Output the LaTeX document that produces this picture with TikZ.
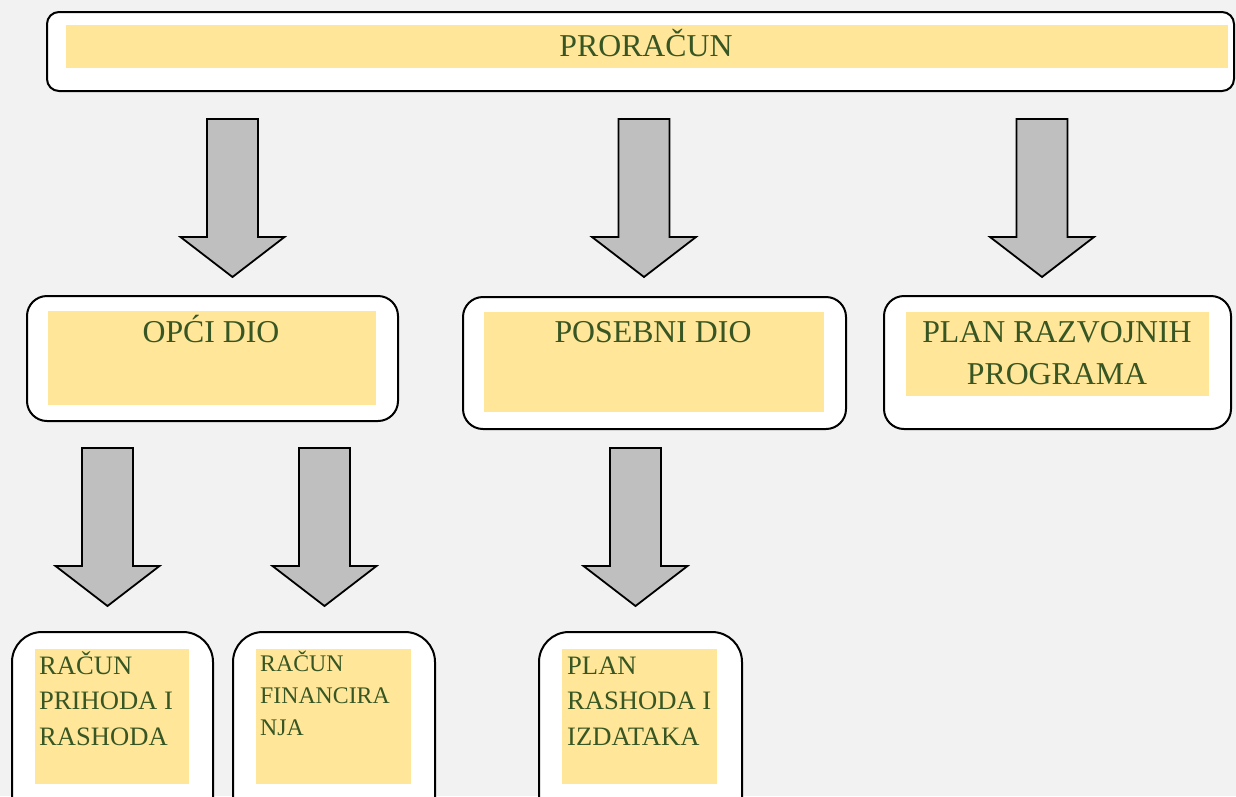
\documentclass[tikz,border=0pt]{standalone}
\usepackage{fontspec}
\setmainfont{Liberation Serif}
\definecolor{bg}{HTML}{F2F2F2}
\definecolor{yel}{HTML}{FFE699}
\definecolor{grn}{HTML}{375623}
\definecolor{agray}{HTML}{BFBFBF}
\tikzset{
  outerbox/.style={draw=black, line width=2pt, fill=white, anchor=north west, inner sep=0pt},
  yelbox/.style={fill=yel, anchor=north west, inner sep=0pt},
  bigtxt/.style={text=grn, font=\fontsize{31.8}{42}\selectfont, inner sep=0pt, align=center},
  arrowshape/.style={draw=black, line width=1.8pt, fill=agray, line join=miter},
}
\newcommand\blockarrow[3]{%
  \draw[arrowshape] (#1-25.5,#2) -- (#1+25.5,#2) -- (#1+25.5,#3-40) -- (#1+52,#3-40)
    -- (#1,#3) -- (#1-52,#3-40) -- (#1-25.5,#3-40) -- cycle;}
\begin{document}
\begin{tikzpicture}[x=1pt,y=-1pt]
\fill[bg] (0,0) rectangle (1236,796);
\useasboundingbox (0,0) rectangle (1236,796);
\clip (0,0) rectangle (1236,796);
% top
\node[outerbox, rounded corners=12pt, minimum width=1187pt, minimum height=79pt] (top) at (46,11) {};
\node[yelbox, minimum width=1162pt, minimum height=43pt] (topin) at (66,25) {};
\node[bigtxt, anchor=base] (toptxt) at (646,56) {PRORAČUN};
% arrows top
\blockarrow{232.5}{119}{277}
\blockarrow{644}{119}{277}
\blockarrow{1042}{119}{277}
% middle
\node[outerbox, rounded corners=20pt, minimum width=371pt, minimum height=125pt] (opci) at (26,295) {};
\node[yelbox, minimum width=328pt, minimum height=94pt] (opciin) at (48,311) {};
\node[bigtxt, anchor=base] (opcitxt) at (211,342) {OPĆI DIO};
\node[outerbox, rounded corners=20pt, minimum width=383pt, minimum height=132pt] (posebni) at (462,296) {};
\node[yelbox, minimum width=340pt, minimum height=100pt] (posebniin) at (484,312) {};
\node[bigtxt, anchor=base] (posebnitxt) at (653,342) {POSEBNI DIO};
\node[outerbox, rounded corners=20pt, minimum width=347pt, minimum height=133pt] (plan) at (883,295) {};
\node[yelbox, minimum width=303pt, minimum height=84pt] (planin) at (906,312) {};
\node[bigtxt, anchor=base] (plantxt1) at (1057,342) {PLAN RAZVOJNIH};
\node[bigtxt, anchor=base] (plantxt2) at (1057,384) {PROGRAMA};
% arrows lower
\blockarrow{107.5}{448}{606}
\blockarrow{324.5}{448}{606}
\blockarrow{635.5}{448}{606}
% bottom
\node[outerbox, rounded corners=30pt, minimum width=201pt, minimum height=200pt] (rpr) at (11,631) {};
\node[yelbox, minimum width=154pt, minimum height=135pt] (rprin) at (35,649) {};
\node[outerbox, rounded corners=30pt, minimum width=202pt, minimum height=200pt] (rf) at (232,631) {};
\node[yelbox, minimum width=155pt, minimum height=135pt] (rfin) at (256,649) {};
\node[outerbox, rounded corners=30pt, minimum width=203pt, minimum height=200pt] (prd) at (538,631) {};
\node[yelbox, minimum width=155pt, minimum height=135pt] (prdin) at (562,649) {};
\begin{scope}[every node/.style={text=grn, inner sep=0pt, anchor=base west}]
\node[font=\fontsize{26.6}{36}\selectfont] (r1) at (39,674) {RAČUN};
\node[font=\fontsize{26.6}{36}\selectfont] (r2) at (39,709.5) {PRIHODA I};
\node[font=\fontsize{26.6}{36}\selectfont] (r3) at (39,745.5) {RASHODA};
\node[font=\fontsize{23.8}{32}\selectfont] (f1) at (260,671.5) {RAČUN};
\node[font=\fontsize{23.8}{32}\selectfont] (f2) at (260,703.3) {FINANCIRA};
\node[font=\fontsize{23.8}{32}\selectfont] (f3) at (260,735) {NJA};
\node[font=\fontsize{26.6}{36}\selectfont] (p1) at (567,674) {PLAN};
\node[font=\fontsize{26.6}{36}\selectfont] (p2) at (567,709.5) {RASHODA I};
\node[font=\fontsize{26.6}{36}\selectfont] (p3) at (567,745.5) {IZDATAKA};
\end{scope}
\end{tikzpicture}
\end{document}
